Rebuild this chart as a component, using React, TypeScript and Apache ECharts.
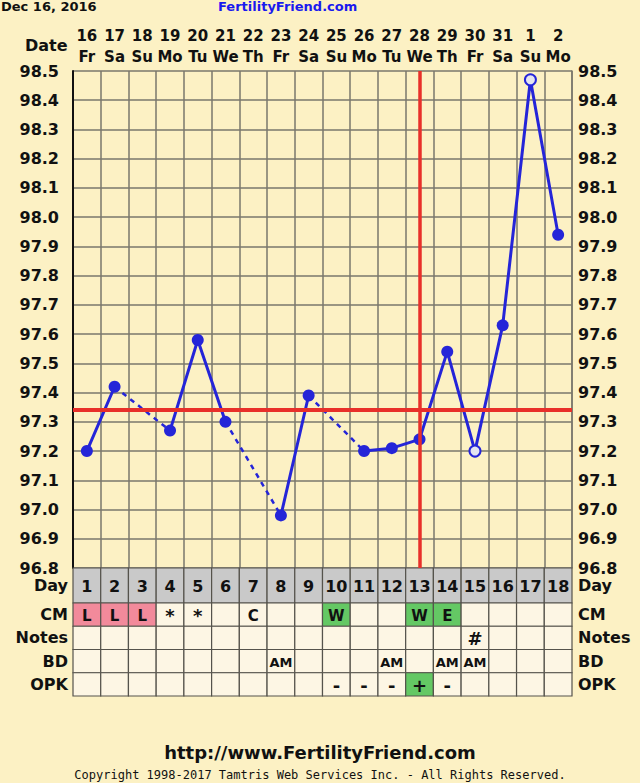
import React, { useEffect, useRef } from "react";
import * as echarts from "echarts";

// Cycle chart: basal body temperatures for one cycle, plus the observation table below.
const dates = ["16", "17", "18", "19", "20", "21", "22", "23", "24", "25", "26", "27", "28", "29", "30", "31", "1", "2"];
const weekdays = ["Fr", "Sa", "Su", "Mo", "Tu", "We", "Th", "Fr", "Sa", "Su", "Mo", "Tu", "We", "Th", "Fr", "Sa", "Su", "Mo"];
const cycleDays = ["1", "2", "3", "4", "5", "6", "7", "8", "9", "10", "11", "12", "13", "14", "15", "16", "17", "18"];
const temps: (number | null)[] = [97.2, 97.42, null, 97.27, 97.58, 97.3, null, 96.98, 97.39, null, 97.2, 97.21, 97.24, 97.54, 97.2, 97.63, 98.47, 97.94];
const discarded = [false, false, false, false, false, false, false, false, false, false, false, false, false, false, true, false, true, false];
const coverline = 97.34;
const ovulationIndex = 12;

const rowNames = ["CM", "Notes", "BD", "OPK"];
const cm = ["L", "L", "L", "*", "*", "", "C", "", "", "W", "", "", "W", "E", "", "", "", ""];
const notes = ["", "", "", "", "", "", "", "", "", "", "", "", "", "", "#", "", "", ""];
const bd = ["", "", "", "", "", "", "", "AM", "", "", "", "AM", "", "AM", "AM", "", "", ""];
const opk = ["", "", "", "", "", "", "", "", "", "-", "-", "-", "+", "-", "", "", "", ""];

const BG = "#fcf1c4";
const CELL = "#fdf6e4";
const GRAYCELL = "#c9c9c9";
const PINK = "#f28a9b";
const GREEN = "#64c864";
const BLUE = "#2525d8";
const RED = "#e8302a";
const GRID = "#7a776c";
const FONT = '"DejaVu Sans", sans-serif';
const MONO = '"DejaVu Sans Mono", monospace';

function cellColor(row: number, text: string): string {
  if (row === 0 && text === "L") return PINK;
  if (row === 0 && (text === "W" || text === "E")) return GREEN;
  if (row === 3 && text === "+") return GREEN;
  return CELL;
}

// symbols are drawn larger, two-letter codes smaller so they fit a cell
function cellFontSize(text: string): number {
  if (text.length > 1) return 13;
  if (/[A-Z]/.test(text)) return 15;
  return 18;
}

export default function App() {
  const ref = useRef<HTMLDivElement>(null);

  useEffect(() => {
    if (!ref.current) return;
    const chart = echarts.init(ref.current, null, { renderer: "svg" });

    const topLabels = dates.map((d, i) => `${d}\n${weekdays[i]}`);
    const lookup = [cm, notes, bd, opk];

    // cells of the lower table: [dayIndex, rowIndex]
    const tableCells: number[][] = [];
    lookup.forEach((row, r) => row.forEach((_, c) => tableCells.push([c, r])));
    const dayCells = cycleDays.map((_, c) => [c, 0]);

    // dashed bridges across days without a temperature
    const bridges: number[][][] = [];
    let last = -1;
    temps.forEach((v, i) => {
      if (v === null) return;
      if (last >= 0 && i - last > 1) bridges.push([[last, temps[last] as number], [i, v]]);
      last = i;
    });

    const lineData = temps.map((v, i) =>
      v === null
        ? null
        : discarded[i]
        ? { value: v, symbolSize: 11, itemStyle: { color: "#e4e4f0", borderColor: BLUE, borderWidth: 2 } }
        : { value: v }
    );

    const axisFont = { fontFamily: FONT, fontWeight: "bold" as const, fontSize: 16, color: "#111" };

    const cellRender = (texts: (c: number, r: number) => string, fills: (c: number, r: number) => string, sizeOf: (t: string) => number, cells: number[][]) =>
      (params: any, api: any) => {
        const [c, r] = cells[params.dataIndex];
        const center = api.coord([c, r]);
        const size = api.size([1, 1]);
        const text = texts(c, r);
        return {
          type: "group",
          children: [
            {
              type: "rect",
              shape: { x: center[0] - size[0] / 2, y: center[1] - size[1] / 2, width: size[0], height: size[1] },
              style: { fill: fills(c, r), stroke: "#55534c", lineWidth: 1.2 },
            },
            {
              type: "text",
              x: center[0],
              y: center[1] + 1,
              style: {
                text, align: "center", verticalAlign: "middle",
                fontSize: sizeOf(text), fontWeight: "bold", fontFamily: FONT, fill: "#111",
              },
            },
          ],
        };
      };

    chart.setOption({
      animation: false,
      backgroundColor: BG,
      grid: [
        { left: 73, top: 71, width: 499, height: 497 },
        { left: 73, top: 568, width: 499, height: 35 },
        { left: 73, top: 603, width: 499, height: 93 },
      ],
      xAxis: [
        {
          gridIndex: 0, type: "category", data: dates, boundaryGap: true,
          axisLine: { show: false }, axisTick: { show: false }, axisLabel: { show: false },
          splitLine: { show: true, lineStyle: { color: GRID, width: 1.5 } },
        },
        {
          gridIndex: 0, type: "category", data: topLabels, position: "top", boundaryGap: true,
          axisLine: { show: false }, axisTick: { show: false },
          axisLabel: { ...axisFont, fontSize: 15, lineHeight: 21, margin: 4, interval: 0 },
        },
        { gridIndex: 1, type: "category", data: cycleDays, show: false },
        { gridIndex: 2, type: "category", data: cycleDays, show: false },
      ],
      yAxis: [
        {
          gridIndex: 0, type: "value", min: 96.8, max: 98.5, interval: 0.1,
          axisLine: { show: true, lineStyle: { color: "#111", width: 2 } }, axisTick: { show: false },
          axisLabel: { ...axisFont, margin: 14, formatter: (v: number) => v.toFixed(1) },
          splitLine: { show: true, lineStyle: { color: GRID, width: 1.5 } },
        },
        {
          gridIndex: 0, type: "value", min: 96.8, max: 98.5, interval: 0.1, position: "right",
          axisLine: { show: true, lineStyle: { color: GRID, width: 1.5 } }, axisTick: { show: false },
          axisLabel: { ...axisFont, margin: 6, formatter: (v: number) => v.toFixed(1) },
          splitLine: { show: false },
        },
        {
          gridIndex: 1, type: "category", data: ["Day"], position: "left",
          axisLine: { show: false }, axisTick: { show: false }, axisLabel: { ...axisFont, margin: 5 },
        },
        {
          gridIndex: 1, type: "category", data: ["Day"], position: "right",
          axisLine: { show: false }, axisTick: { show: false }, axisLabel: { ...axisFont, margin: 6 },
        },
        {
          gridIndex: 2, type: "category", data: rowNames, inverse: true, position: "left",
          axisLine: { show: false }, axisTick: { show: false }, axisLabel: { ...axisFont, margin: 5 },
        },
        {
          gridIndex: 2, type: "category", data: rowNames, inverse: true, position: "right",
          axisLine: { show: false }, axisTick: { show: false }, axisLabel: { ...axisFont, margin: 6 },
        },
      ],
      graphic: [
        { type: "text", left: 1, top: 0, style: { text: "Dec 16, 2016", font: `bold 13px ${FONT}`, fill: "#111" } },
        { type: "text", left: 218, top: 0, style: { text: "FertilityFriend.com", font: `bold 13px ${FONT}`, fill: "#1a1aee" } },
        { type: "text", left: 25, top: 37, style: { text: "Date", font: `bold 16px ${FONT}`, fill: "#111" } },
        { type: "text", left: "center", top: 743, style: { text: "http://www.FertilityFriend.com", font: `bold 18px ${FONT}`, fill: "#111" } },
        { type: "text", left: "center", top: 769, style: { text: "Copyright 1998-2017 Tamtris Web Services Inc. - All Rights Reserved.", font: `12px ${MONO}`, fill: "#111" } },
      ],
      series: [
        {
          type: "line", xAxisIndex: 0, yAxisIndex: 0, data: [], z: 1, silent: true,
          markLine: {
            silent: true, symbol: "none", label: { show: false },
            data: [
              { yAxis: coverline, lineStyle: { color: RED, width: 4, type: "solid" } },
              { xAxis: ovulationIndex, lineStyle: { color: RED, width: 3.5, type: "solid" } },
            ],
          },
        },
        ...bridges.map((b) => ({
          type: "line", xAxisIndex: 0, yAxisIndex: 0, data: b, symbol: "none", z: 3,
          lineStyle: { color: BLUE, width: 2.5, type: [5, 5] },
        })),
        {
          type: "line", xAxisIndex: 0, yAxisIndex: 0, data: lineData, connectNulls: false, z: 4,
          symbol: "circle", symbolSize: 12, showAllSymbol: true,
          itemStyle: { color: BLUE }, lineStyle: { color: BLUE, width: 3 },
        },
        {
          type: "custom", xAxisIndex: 2, yAxisIndex: 2, data: dayCells,
          renderItem: cellRender((c) => cycleDays[c], () => GRAYCELL, () => 16, dayCells),
        },
        {
          type: "custom", xAxisIndex: 3, yAxisIndex: 4, data: tableCells,
          renderItem: cellRender((c, r) => lookup[r][c], (c, r) => cellColor(r, lookup[r][c]), cellFontSize, tableCells),
        },
      ],
    });

    return () => chart.dispose();
  }, []);

  return <div ref={ref} style={{ position: "absolute", left: 0, top: 0, width: 640, height: 783 }} />;
}
